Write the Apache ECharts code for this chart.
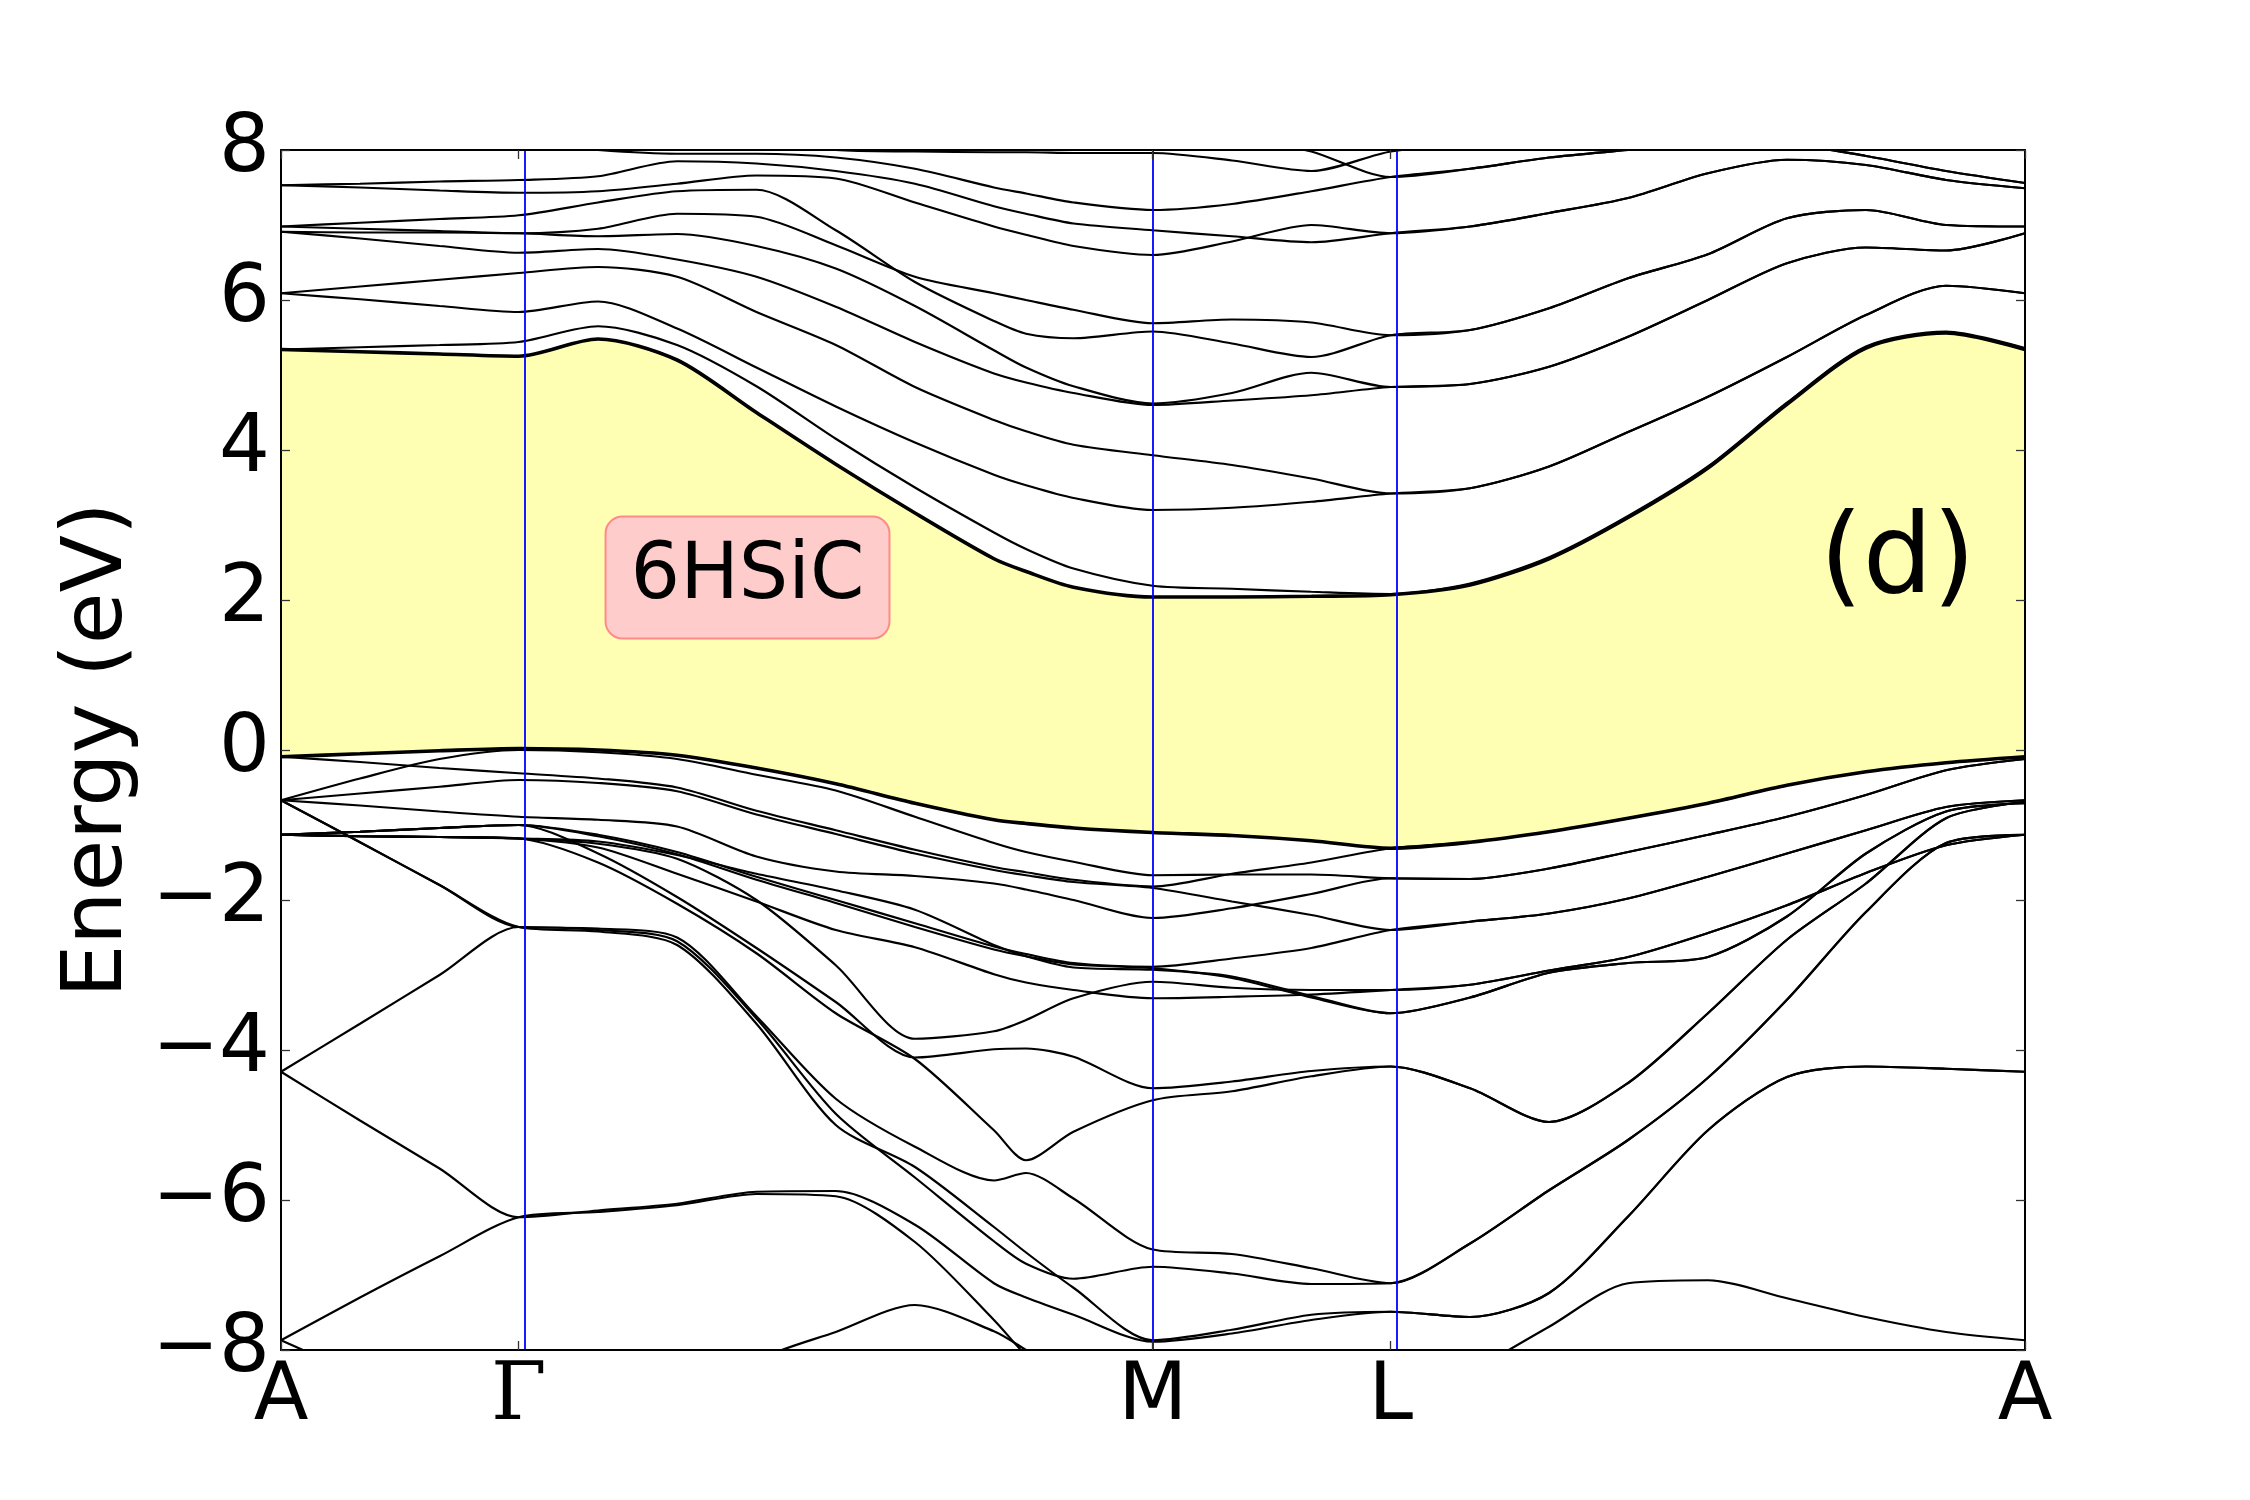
<!DOCTYPE html>
<html>
<head>
<meta charset="utf-8">
<script src="https://cdn.jsdelivr.net/npm/echarts@6/dist/echarts.min.js"></script>
<style>
  html, body { margin: 0; padding: 0; background: #fff; }
  #chart { width: 2250px; height: 1500px; }
</style>
</head>
<body>
<div id="chart"></div>
<script>
// sample positions along the path A-G-M-L-A (fraction of path length)
var kGrid = [0, 0.0453, 0.0909, 0.1363, 0.1818, 0.2271, 0.2726, 0.3181, 0.3635, 0.4088, 0.4272, 0.4544,
             0.4998, 0.5453, 0.5908, 0.6363, 0.6818, 0.7271, 0.7724, 0.8182, 0.8635, 0.9088, 0.9547, 1];
var kTicks = [0, 0.1363, 0.4998, 0.6363, 1];
var kLabels = ['A', 'Γ', 'M', 'L', 'A'];

// conduction bands (eV)
var cb1  = [5.34,5.31,5.28,5.25, 5.48,5.2,4.5,3.81,3.16,2.55,2.38,2.17, 2.04, 2.04,2.05, 2.07, 2.2,2.55,3.1,3.76,4.61,5.36,5.56,5.34];
var cb2  = [5.34,5.37,5.4,5.44, 5.65,5.4,4.85,4.15,3.5,2.9,2.68,2.42, 2.19, 2.15,2.11, 2.08, 2.22,2.57,3.12,3.78,4.63,5.38,5.58,5.36];
var cb3  = [6.09,6.01,5.92,5.84, 5.98,5.62,5.1,4.58,4.1,3.67,3.53,3.36, 3.2, 3.23,3.31, 3.42, 3.49,3.78,4.24,4.71,5.24,5.8,6.19,6.09];
var cb4  = [6.09,6.18,6.27,6.36, 6.44,6.31,5.84,5.4,4.84,4.4,4.25,4.07, 3.93, 3.8,3.62, 3.42, 3.49,3.78,4.24,4.71,5.24,5.8,6.19,6.09];
var cb5  = [6.91,6.9,6.9,6.89, 6.85,6.88,6.72,6.42,5.92,5.33,5.1,4.85, 4.62, 4.76,5.03, 4.84, 4.88,5.11,5.51,6.0,6.49,6.7,6.66,6.89];
var cb6  = [6.91,6.82,6.72,6.63, 6.68,6.54,6.31,5.91,5.44,5.02,4.9,4.76, 4.6, 4.66,4.73, 4.84, 4.88,5.11,5.51,6.0,6.49,6.7,6.66,6.89];
var cb7  = [6.98,6.95,6.92,6.89, 6.95,7.15,7.11,6.73,6.31,6.09,6.0,5.87, 5.69, 5.74,5.7, 5.53, 5.6,5.89,6.29,6.61,7.09,7.2,7.0,6.98];
var cb8  = [6.98,7.03,7.08,7.13, 7.3,7.45,7.47,6.93,6.24,5.72,5.55,5.49, 5.58, 5.42,5.24, 5.53, 5.6,5.89,6.29,6.61,7.09,7.2,7.0,6.98];
var cb9  = [7.53,7.5,7.46,7.43, 7.45,7.55,7.66,7.62,7.3,6.98,6.87,6.72, 6.6, 6.78,7.0, 6.89, 6.98,7.16,7.36,7.69,7.87,7.8,7.6,7.49];
var cb10 = [7.53,7.55,7.58,7.6, 7.65,7.85,7.82,7.72,7.55,7.25,7.15,7.02, 6.93, 6.85,6.77, 6.89, 6.98,7.16,7.36,7.69,7.87,7.8,7.6,7.49];
var cb11 = [8.4,8.3,8.2,8.1, 8.0,7.95,7.95,7.9,7.75,7.5,7.42,7.3, 7.2, 7.28,7.45, 7.64, 7.75,7.9,8.0,8.1,8.08,7.92,7.72,7.56];
var cb12 = [8.6,8.6,8.6,8.6, 8.5,8.4,8.3,8.0,7.98,7.97,7.97,7.96, 7.96, 7.86,7.72, 7.98, 8.08,8.2,8.3,8.4,8.4,8.3,8.2,8.1];
var cb13 = [9,9,9,9, 9,9,9,9,8.8,8.7,8.65,8.5, 8.4, 8.2,7.98, 7.64, 7.75,7.9,8.0,8.1,8.08,7.92,7.72,7.56];

// valence bands (eV)
var vb1  = [-0.09,-0.05,-0.01,0.02, 0.0,-0.07,-0.24,-0.45,-0.71,-0.93,-0.98,-1.04, -1.1, -1.14,-1.21, -1.31, -1.23,-1.09,-0.91,-0.71,-0.47,-0.29,-0.17,-0.09];
var vb2  = [-0.67,-0.38,-0.12,0.0, -0.03,-0.12,-0.33,-0.54,-0.89,-1.24,-1.36,-1.49, -1.67, -1.66,-1.66, -1.71, -1.72,-1.58,-1.36,-1.13,-0.89,-0.6,-0.27,-0.12];
var vb3  = [-0.09,-0.16,-0.24,-0.31, -0.38,-0.5,-0.81,-1.07,-1.33,-1.56,-1.63,-1.73, -1.82, -1.65,-1.5, -1.31, -1.23,-1.09,-0.91,-0.71,-0.47,-0.29,-0.17,-0.09];
var vb4  = [-0.67,-0.58,-0.49,-0.4, -0.44,-0.55,-0.86,-1.12,-1.38,-1.6,-1.67,-1.76, -1.84, -2.02,-2.2, -2.4, -2.29,-2.18,-1.98,-1.69,-1.38,-1.07,-0.76,-0.67];
var vb5  = [-0.67,-0.74,-0.82,-0.89, -0.93,-1.02,-1.42,-1.62,-1.68,-1.78,-1.86,-2.0, -2.24, -2.11,-1.92, -1.71, -1.72,-1.58,-1.36,-1.13,-0.89,-0.6,-0.27,-0.12];
var vb6  = [-1.13,-1.09,-1.04,-1.0, -1.13,-1.36,-1.69,-2.0,-2.31,-2.62,-2.72,-2.84, -2.89, -2.78,-2.64, -2.4, -2.29,-2.18,-1.98,-1.69,-1.38,-1.07,-0.76,-0.67];
var vb7  = [-1.13,-1.09,-1.04,-1.0, -1.15,-1.39,-1.73,-2.04,-2.36,-2.66,-2.75,-2.86, -2.91, -3.04,-3.3, -3.51, -3.3,-2.97,-2.84,-2.76,-2.22,-1.38,-0.82,-0.71];
var vb8  = [-1.13,-1.15,-1.16,-1.18, -1.22,-1.4,-1.65,-1.87,-2.13,-2.6,-2.75,-2.9, -2.93, -3.02,-3.28, -3.51, -3.3,-2.97,-2.84,-2.76,-2.22,-1.38,-0.82,-0.71];
var vb9  = [-1.13,-1.15,-1.16,-1.18, -1.25,-1.45,-2.0,-2.87,-3.85,-3.75,-3.6,-3.31, -3.09, -3.17,-3.2, -3.2, -3.13,-2.94,-2.76,-2.44,-2.07,-1.64,-1.27,-1.13];
var vb10 = [-1.13,-1.15,-1.16,-1.18, -1.3,-1.65,-2.02,-2.4,-2.63,-2.99,-3.1,-3.2, -3.31, -3.29,-3.26, -3.2, -3.13,-2.94,-2.76,-2.44,-2.07,-1.64,-1.27,-1.13];
var vb11 = [-1.13,-1.09,-1.04,-1.0, -1.38,-1.96,-2.64,-3.36,-4.1,-3.99,-3.98,-4.09, -4.51, -4.42,-4.28, -4.22, -4.51,-4.96,-4.44,-3.51,-2.53,-1.78,-0.91,-0.69];
var vb12 = [-1.13,-1.15,-1.16,-1.18, -1.5,-2.05,-2.71,-3.51,-4.12,-5.07,-5.47,-5.09, -4.67, -4.55,-4.35, -4.22, -4.51,-4.96,-4.44,-3.51,-2.53,-1.78,-0.91,-0.69];
var vb13 = [-0.67,-1.23,-1.8,-2.36, -2.38,-2.5,-3.55,-4.65,-5.29,-5.74,-5.64,-5.98, -6.66, -6.72,-6.91, -7.11, -6.58,-5.87,-5.2,-4.37,-3.33,-2.16,-1.24,-1.13];
var vb14 = [-4.29,-3.65,-3.0,-2.36, -2.4,-2.55,-3.58,-4.85,-5.7,-6.55,-6.85,-7.05, -6.89, -6.98,-7.12, -7.11, -6.58,-5.87,-5.2,-4.37,-3.33,-2.16,-1.24,-1.13];
var vb15 = [-0.67,-1.23,-1.8,-2.36, -2.42,-2.6,-3.65,-5.0,-5.56,-6.36,-6.7,-7.17, -7.87, -7.73,-7.53, -7.49, -7.56,-7.24,-6.22,-5.07,-4.36,-4.22,-4.25,-4.29];
var vb16 = [-4.29,-4.94,-5.58,-6.23, -6.14,-6.05,-5.89,-5.88,-6.33,-7.11,-7.3,-7.53, -7.89, -7.78,-7.6, -7.49, -7.56,-7.24,-6.22,-5.07,-4.36,-4.22,-4.25,-4.29];
var vb17 = [-7.87,-7.3,-6.75,-6.23, -6.16,-6.07,-5.92,-5.95,-6.56,-7.6,-8.07,-8.6, -9.0, -9.2,-9.3, -9.4, -9.4,-9.4,-9.4,-9.4,-9.4,-9.4,-9.4,-9.4];
var vb18 = [-7.87,-8.35,-8.9,-9.4, -9.6,-9.0,-8.15,-7.76,-7.4,-7.75,-8.0,-8.4, -8.7, -8.8,-8.85, -8.9, -8.3,-7.69,-7.11,-7.07,-7.31,-7.56,-7.76,-7.87];

var conduction = [cb2, cb3, cb4, cb5, cb6, cb7, cb8, cb9, cb10, cb11, cb12, cb13];
var valence = [vb2, vb3, vb4, vb5, vb6, vb7, vb8, vb9, vb10, vb11, vb12, vb13, vb14, vb15, vb16, vb17, vb18];

// annotations, placed in data coordinates
var tagText = '6HSiC', tagAt = [0.2675, 2.3];
var panelText = '(d)', panelAt = [0.927, 2.49];

var FONT = 'DejaVu Sans';
var SMOOTH = 0.28;

function toPoints(vals) {
  return kGrid.map(function (k, i) { return [k, vals[i]]; });
}

function bandSeries(vals, width) {
  return {
    type: 'line',
    data: toPoints(vals),
    smooth: SMOOTH,
    symbol: 'none',
    silent: true,
    clip: true,
    lineStyle: { color: '#000', width: width },
    z: 4
  };
}

// filled area from the axis bottom up to a band (used to paint the gap)
function fillSeries(vals, color) {
  return {
    type: 'line',
    data: toPoints(vals),
    smooth: SMOOTH,
    symbol: 'none',
    silent: true,
    clip: true,
    lineStyle: { opacity: 0 },
    areaStyle: { color: color, opacity: 1, origin: 'start' },
    z: 1
  };
}

var chart = echarts.init(document.getElementById('chart'));

var series = [];
// yellow up to the conduction band minimum, then white below the valence band maximum
series.push(fillSeries(cb1, '#ffffb4'));
series.push(fillSeries(vb1, '#ffffff'));
// vertical lines at the inner high-symmetry points
series.push({
  type: 'line', data: [[0, -100]], symbol: 'none', silent: true,
  lineStyle: { opacity: 0 }, z: 2,
  markLine: {
    silent: true, symbol: 'none', animation: false,
    label: { show: false },
    lineStyle: { color: '#0000ff', width: 1.8, type: 'solid' },
    data: kTicks.slice(1, 4).map(function (k) { return { xAxis: k }; })
  }
});
var firstBand = series.length;
conduction.forEach(function (b) { series.push(bandSeries(b, 2.2)); });
valence.forEach(function (b) { series.push(bandSeries(b, 2.2)); });
series.push(bandSeries(cb1, 3.6));
series.push(bandSeries(vb1, 3.6));

var tickStyle = { show: true, inside: true, length: 9, lineStyle: { color: '#333', width: 1.3 } };
var frameLine = { show: true, onZero: false, lineStyle: { color: '#000', width: 2 } };

var option = {
  animation: false,
  backgroundColor: '#fff',
  textStyle: { fontFamily: FONT },
  grid: { left: 281, right: 225, top: 150, bottom: 150 },
  xAxis: [{
    type: 'value', min: 0, max: 1, position: 'bottom', z: 6,
    axisLine: frameLine,
    axisTick: Object.assign({ customValues: kTicks }, tickStyle),
    splitLine: { show: false },
    axisLabel: {
      customValues: kTicks,
      margin: 8,
      fontSize: 80, color: '#000', fontFamily: FONT,
      formatter: function (v) {
        var i = kTicks.indexOf(v);
        var s = i >= 0 ? kLabels[i] : '';
        return s === 'Γ' ? '{g|Γ}' : s;
      },
      rich: { g: { fontFamily: 'DejaVu Serif', fontSize: 80, color: '#000' } }
    }
  }, {
    type: 'value', min: 0, max: 1, position: 'top', z: 6,
    axisLine: frameLine,
    axisTick: Object.assign({ customValues: kTicks }, tickStyle),
    axisLabel: { show: false, customValues: kTicks },
    splitLine: { show: false }
  }],
  yAxis: [{
    type: 'value', min: -8, max: 8, interval: 2, position: 'left', z: 6,
    name: 'Energy (eV)', nameLocation: 'middle', nameGap: 140,
    nameTextStyle: { fontSize: 84, color: '#000', fontFamily: FONT },
    axisLine: frameLine,
    axisTick: tickStyle,
    splitLine: { show: false },
    axisLabel: {
      margin: 11, fontSize: 80, color: '#000', fontFamily: FONT,
      formatter: function (v) { return v < 0 ? '\u2212' + (-v) : String(v); }
    }
  }, {
    type: 'value', min: -8, max: 8, interval: 2, position: 'right', z: 6,
    axisLine: frameLine,
    axisTick: tickStyle,
    axisLabel: { show: false },
    splitLine: { show: false }
  }],
  series: series
};

chart.setOption(option);

// text labels positioned through the chart's own scales
var tagPos = chart.convertToPixel({ seriesIndex: firstBand }, tagAt);
var panelPos = chart.convertToPixel({ seriesIndex: firstBand }, panelAt);
chart.setOption({
  graphic: [{
    type: 'text', x: tagPos[0], y: tagPos[1], z: 20, silent: true,
    style: {
      text: tagText, fill: '#000', fontFamily: FONT, fontSize: 78, lineHeight: 84,
      align: 'center', verticalAlign: 'middle',
      backgroundColor: '#ffcccc', borderColor: '#ff8a8a', borderWidth: 2,
      borderRadius: 16, padding: [18, 24]
    }
  }, {
    type: 'text', x: panelPos[0], y: panelPos[1], z: 20, silent: true,
    style: {
      text: panelText, fill: '#000', fontFamily: FONT, fontSize: 110,
      align: 'center', verticalAlign: 'middle'
    }
  }]
});

window.onresize = chart.resize;
</script>
</body>
</html>
